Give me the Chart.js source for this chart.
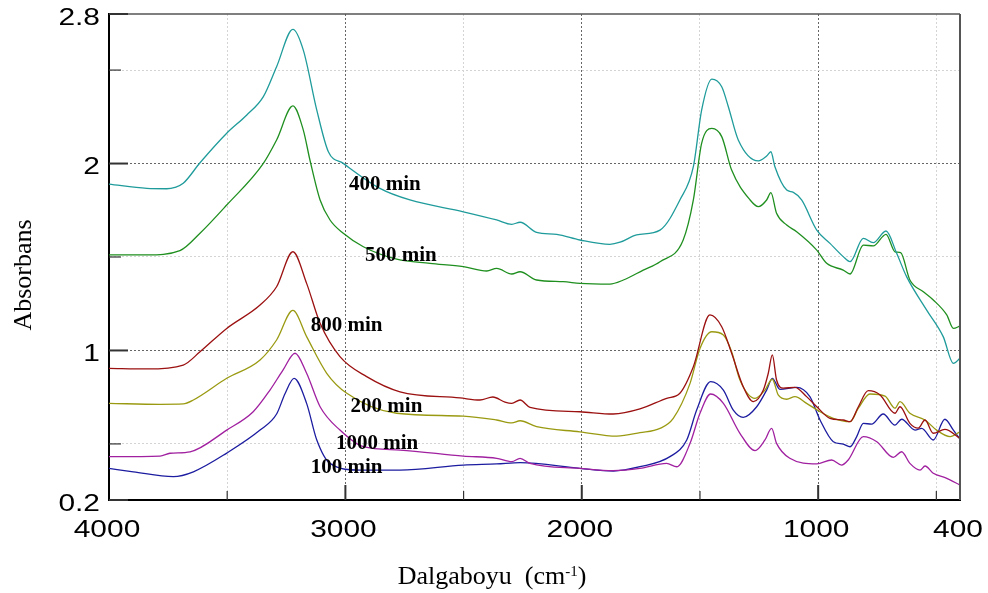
<!DOCTYPE html>
<html>
<head>
<meta charset="utf-8">
<script src="https://cdn.jsdelivr.net/npm/chart.js"></script>
<style>
  body { margin: 0; background: #fff; }
</style>
</head>
<body>
<canvas id="myChart" width="988" height="593"></canvas>
<script>
// axis ticks
const xTicks = [4000, 3500, 3000, 2500, 2000, 1500, 1000, 500, 400];
const xLabels = [4000, 3000, 2000, 1000, 400];
const xMajor = [3000, 2000, 1000];
const yTicks = [0.2, 0.5, 1, 1.5, 2, 2.5, 2.8];
const yLabels = [2.8, 2, 1, 0.2];
const yMajor = [2, 1];

// 400 min
const wave400 = [4000, 3840, 3756, 3721, 3686, 3615, 3502, 3417, 3347, 3291, 3222, 3178, 3121, 3072, 3009, 2854, 2727, 2501, 2360, 2296, 2261, 2191, 2106, 2008, 1881, 1838, 1768, 1669, 1585, 1528, 1493, 1450, 1408, 1380, 1338, 1253, 1218, 1200, 1183, 1133, 1105, 1070, 1006, 950, 894, 865, 809, 767, 713, 668, 626, 541, 471, 428, 400];
const abs400 = [1.890, 1.867, 1.865, 1.872, 1.894, 2.004, 2.162, 2.260, 2.358, 2.518, 2.718, 2.607, 2.286, 2.063, 2.001, 1.867, 1.805, 1.742, 1.698, 1.675, 1.686, 1.632, 1.621, 1.591, 1.568, 1.579, 1.618, 1.644, 1.805, 1.983, 2.286, 2.452, 2.411, 2.304, 2.126, 2.014, 2.040, 2.063, 1.983, 1.858, 1.846, 1.805, 1.644, 1.573, 1.502, 1.475, 1.600, 1.577, 1.639, 1.520, 1.395, 1.216, 1.074, 0.931, 0.958];

// 500 min
const wave500 = [4000, 3840, 3700, 3615, 3502, 3347, 3291, 3222, 3178, 3150, 3107, 3065, 3009, 2924, 2783, 2642, 2501, 2402, 2360, 2296, 2261, 2191, 2078, 2008, 1881, 1824, 1740, 1669, 1571, 1528, 1493, 1450, 1408, 1366, 1288, 1253, 1218, 1200, 1176, 1133, 1091, 1006, 964, 894, 865, 809, 767, 713, 675, 651, 612, 555, 513, 456, 428, 400];
const abs500 = [1.511, 1.511, 1.534, 1.627, 1.778, 2.001, 2.126, 2.308, 2.179, 2.019, 1.805, 1.698, 1.627, 1.555, 1.488, 1.466, 1.448, 1.425, 1.439, 1.409, 1.421, 1.377, 1.368, 1.359, 1.355, 1.377, 1.430, 1.475, 1.591, 1.805, 2.108, 2.188, 2.144, 1.965, 1.805, 1.769, 1.805, 1.844, 1.734, 1.671, 1.635, 1.537, 1.466, 1.430, 1.409, 1.564, 1.559, 1.621, 1.528, 1.523, 1.377, 1.314, 1.270, 1.190, 1.118, 1.131];

// 800 min
const wave800 = [4000, 3840, 3686, 3615, 3502, 3361, 3291, 3222, 3164, 3107, 3023, 2910, 2769, 2515, 2431, 2376, 2325, 2296, 2261, 2219, 2008, 1867, 1754, 1641, 1585, 1528, 1458, 1408, 1366, 1317, 1274, 1232, 1211, 1194, 1176, 1148, 1098, 1049, 1006, 950, 894, 865, 830, 788, 738, 675, 654, 612, 577, 548, 513, 464, 400];
const abs800 = [0.904, 0.901, 0.922, 0.993, 1.118, 1.243, 1.341, 1.528, 1.359, 1.145, 0.967, 0.860, 0.779, 0.746, 0.735, 0.751, 0.724, 0.717, 0.735, 0.696, 0.672, 0.660, 0.687, 0.744, 0.771, 0.913, 1.190, 1.127, 0.985, 0.806, 0.726, 0.788, 0.878, 0.976, 0.842, 0.798, 0.803, 0.753, 0.699, 0.637, 0.628, 0.619, 0.699, 0.785, 0.762, 0.664, 0.699, 0.610, 0.584, 0.628, 0.557, 0.578, 0.530];

// 200 min
const wave200 = [4000, 3784, 3686, 3643, 3502, 3361, 3291, 3222, 3164, 3079, 2994, 2783, 2501, 2360, 2296, 2261, 2191, 2008, 1852, 1754, 1669, 1613, 1542, 1500, 1450, 1401, 1366, 1331, 1267, 1225, 1194, 1169, 1133, 1098, 1049, 992, 936, 865, 830, 781, 717, 675, 654, 612, 548, 499, 442, 400];
const abs200 = [0.717, 0.712, 0.714, 0.735, 0.851, 0.949, 1.056, 1.214, 1.074, 0.878, 0.771, 0.664, 0.649, 0.628, 0.613, 0.624, 0.592, 0.565, 0.542, 0.560, 0.583, 0.637, 0.824, 1.011, 1.100, 1.083, 0.993, 0.842, 0.744, 0.788, 0.846, 0.762, 0.739, 0.753, 0.717, 0.672, 0.637, 0.619, 0.691, 0.767, 0.756, 0.691, 0.726, 0.664, 0.628, 0.574, 0.539, 0.565];

// 1000 min
const wave1000 = [4000, 3784, 3742, 3657, 3502, 3390, 3319, 3264, 3213, 3164, 3107, 3023, 2924, 2769, 2501, 2360, 2296, 2261, 2219, 2008, 1867, 1754, 1641, 1598, 1542, 1500, 1455, 1401, 1331, 1267, 1225, 1197, 1176, 1120, 1006, 943, 901, 873, 809, 752, 682, 647, 612, 569, 548, 513, 456, 400];
const abs1000 = [0.432, 0.435, 0.450, 0.458, 0.574, 0.672, 0.788, 0.895, 0.985, 0.878, 0.699, 0.574, 0.485, 0.467, 0.435, 0.423, 0.405, 0.423, 0.396, 0.369, 0.357, 0.369, 0.396, 0.378, 0.503, 0.664, 0.767, 0.717, 0.557, 0.464, 0.521, 0.583, 0.503, 0.423, 0.393, 0.414, 0.387, 0.414, 0.539, 0.512, 0.428, 0.458, 0.396, 0.360, 0.382, 0.343, 0.316, 0.280];

// 100 min
const wave100 = [4000, 3897, 3728, 3643, 3502, 3361, 3291, 3255, 3217, 3164, 3121, 3065, 2938, 2769, 2501, 2360, 2261, 2008, 1867, 1754, 1627, 1556, 1514, 1455, 1401, 1359, 1317, 1260, 1218, 1194, 1162, 1091, 1035, 992, 936, 894, 865, 837, 809, 774, 725, 675, 647, 590, 562, 513, 464, 428, 400];
const abs100 = [0.369, 0.351, 0.325, 0.351, 0.451, 0.574, 0.660, 0.770, 0.851, 0.717, 0.521, 0.396, 0.360, 0.360, 0.387, 0.393, 0.400, 0.369, 0.355, 0.378, 0.432, 0.521, 0.681, 0.833, 0.788, 0.681, 0.642, 0.699, 0.788, 0.851, 0.792, 0.803, 0.753, 0.628, 0.512, 0.499, 0.485, 0.539, 0.610, 0.606, 0.660, 0.601, 0.632, 0.574, 0.583, 0.521, 0.632, 0.574, 0.525];

// curve labels: text, wavenumber, absorbance (left / baseline)
const curveLabels = [
  ["400 min", 2985, 1.858],
  ["500 min", 2917, 1.480],
  ["800 min", 3147, 1.106],
  ["200 min", 2978, 0.672],
  ["1000 min", 3040, 0.471],
  ["100 min", 3147, 0.343]
];

function pts(w, a) {
  return w.map((v, i) => ({ x: v, y: a[i] }));
}

function series(w, a, color) {
  return {
    data: pts(w, a),
    borderColor: color,
    borderWidth: 1.3,
    pointRadius: 0,
    fill: false,
    cubicInterpolationMode: 'monotone'
  };
}

function gridColor(v, major, edges) {
  if (edges.includes(v)) return 'rgba(0,0,0,0)';
  return major.includes(v) ? '#666' : '#d4d4d4';
}

const overlay = {
  id: 'overlay',
  afterDraw(chart) {
    const { ctx, chartArea: a, scales: { x, y } } = chart;
    ctx.save();

    // frame
    ctx.strokeStyle = '#555';
    ctx.lineWidth = 1.5;
    ctx.beginPath(); ctx.moveTo(a.left, a.top); ctx.lineTo(a.right, a.top); ctx.stroke();
    ctx.lineWidth = 2;
    ctx.beginPath(); ctx.moveTo(a.right, a.top); ctx.lineTo(a.right, a.bottom); ctx.stroke();

    // inward ticks
    ctx.strokeStyle = '#333';
    yTicks.forEach(v => {
      const p = y.getPixelForValue(v);
      const big = yLabels.includes(v);
      ctx.lineWidth = big ? 2 : 1.2;
      ctx.beginPath(); ctx.moveTo(a.left, p); ctx.lineTo(a.left + (big ? 19 : 12), p); ctx.stroke();
    });
    xTicks.forEach(v => {
      if (v === 4000 || v === 400) return;
      const p = x.getPixelForValue(v);
      const big = xMajor.includes(v);
      ctx.lineWidth = big ? 2 : 1.2;
      ctx.beginPath(); ctx.moveTo(p, a.bottom); ctx.lineTo(p, a.bottom - (big ? 15 : 9)); ctx.stroke();
    });

    // tick labels (wide sans)
    ctx.fillStyle = '#000';
    ctx.font = '23px "Liberation Sans", Arial, sans-serif';
    ctx.textBaseline = 'alphabetic';
    yLabels.forEach(v => {
      const p = y.getPixelForValue(v);
      ctx.save();
      ctx.translate(a.left - 9, p + 10.5);
      ctx.scale(1.3, 1);
      ctx.textAlign = 'right';
      ctx.fillText(String(v), 0, 0);
      ctx.restore();
    });
    xLabels.forEach(v => {
      const p = x.getPixelForValue(v);
      ctx.save();
      ctx.translate(p - 2, a.bottom + 36.7);
      ctx.scale(1.3, 1);
      ctx.textAlign = 'center';
      ctx.fillText(String(v), 0, 0);
      ctx.restore();
    });

    // curve labels
    ctx.font = 'bold 21px "Liberation Serif", "Times New Roman", serif';
    ctx.textAlign = 'left';
    curveLabels.forEach(([t, w, v]) => {
      ctx.fillText(t, x.getPixelForValue(w), y.getPixelForValue(v));
    });

    // y title
    ctx.font = '26px "Liberation Serif", "Times New Roman", serif';
    ctx.save();
    ctx.translate(30.5, (a.top + a.bottom) / 2 + 18);
    ctx.rotate(-Math.PI / 2);
    ctx.textAlign = 'center';
    ctx.fillText('Absorbans', 0, 0);
    ctx.restore();

    // x title with superscript
    const parts = [['Dalgaboyu  (cm', 26, 0], ['-1', 15, -8], [')', 26, 0]];
    let total = 0;
    parts.forEach(p => {
      ctx.font = p[1] + 'px "Liberation Serif", "Times New Roman", serif';
      p.push(ctx.measureText(p[0]).width);
      total += p[3];
    });
    let cx = 492 - total / 2;
    ctx.textAlign = 'left';
    parts.forEach(p => {
      ctx.font = p[1] + 'px "Liberation Serif", "Times New Roman", serif';
      ctx.fillText(p[0], cx, 584.3 + p[2]);
      cx += p[3];
    });

    ctx.restore();
  }
};

new Chart("myChart", {
  type: "line",
  data: {
    datasets: [
      series(wave400, abs400, "#1f9b9b"),
      series(wave500, abs500, "#1f8f1f"),
      series(wave800, abs800, "#9b1010"),
      series(wave200, abs200, "#9a9a12"),
      series(wave1000, abs1000, "#a020a0"),
      series(wave100, abs100, "#1c1ca0")
    ]
  },
  options: {
    responsive: false,
    animation: false,
    layout: { padding: { left: 109, right: 28, top: 14, bottom: 93 } },
    plugins: { legend: { display: false }, tooltip: { enabled: false } },
    scales: {
      x: {
        type: 'linear',
        min: 400,
        max: 4000,
        reverse: true,
        afterBuildTicks: s => { s.ticks = xTicks.map(v => ({ value: v })); },
        ticks: { display: false },
        grid: {
          drawTicks: false,
          lineWidth: 1,
          color: c => gridColor(c.tick.value, xMajor, [4000, 400])
        },
        border: { color: '#000', width: 2, dash: [2, 2] }
      },
      y: {
        min: 0.2,
        max: 2.8,
        afterBuildTicks: s => { s.ticks = yTicks.map(v => ({ value: v })); },
        ticks: { display: false },
        grid: {
          drawTicks: false,
          lineWidth: 1,
          color: c => gridColor(c.tick.value, yMajor, [0.2, 2.8])
        },
        border: { color: '#000', width: 2, dash: [2, 2] }
      }
    }
  },
  plugins: [overlay]
});
</script>
</body>
</html>
